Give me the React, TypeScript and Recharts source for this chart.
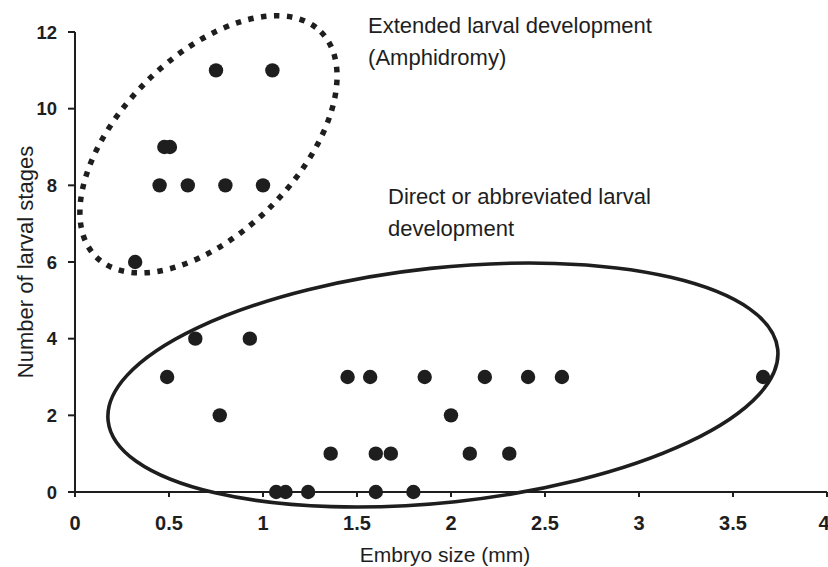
import {
  ScatterChart,
  Scatter,
  XAxis,
  YAxis,
  ReferenceArea,
  ReferenceDot,
  Label,
} from "recharts";

// embryo size (mm) / number of larval stages
const extendedSize = [0.32, 0.45, 0.6, 0.8, 1.0, 0.475, 0.505, 0.75, 1.05];
const extendedStages = [6, 8, 8, 8, 8, 9, 9, 11, 11];

const directSize = [
  0.64, 0.93,
  0.49, 1.45, 1.57, 1.86, 2.18, 2.41, 2.59, 3.66,
  0.77, 2.0,
  1.36, 1.6, 1.68, 2.1, 2.31,
  1.07, 1.12, 1.24, 1.6, 1.8,
];
const directStages = [
  4, 4,
  3, 3, 3, 3, 3, 3, 3, 3,
  2, 2,
  1, 1, 1, 1, 1,
  0, 0, 0, 0, 0,
];

const xTicks = [0, 0.5, 1, 1.5, 2, 2.5, 3, 3.5, 4];
const yTicks = [0, 2, 4, 6, 8, 10, 12];

const extendedData = extendedSize.map((x, i) => ({ x, y: extendedStages[i] }));
const directData = directSize.map((x, i) => ({ x, y: directStages[i] }));

// group outlines, in data units: centre, half-axes, tilt (deg)
const extendedOutline = { cx: 0.71, cy: 9.07, rx: 0.846, ry: 2.3, angle: -45 };
const directOutline = { cx: 1.957, cy: 2.79, rx: 1.791, ry: 3.06, angle: -6.1 };

const INK = "#1e1e1e";
const FONT = "'Liberation Sans', Arial, sans-serif";

const Dot = (props: any) => <circle cx={props.cx} cy={props.cy} r={7.2} fill={INK} />;

const XTick = (props: any) => (
  <text
    x={props.x}
    y={props.y + 31}
    textAnchor="middle"
    fontFamily={FONT}
    fontSize={20}
    fontWeight="bold"
    fill={INK}
  >
    {props.payload.value}
  </text>
);

const YTick = (props: any) => (
  <text
    x={57}
    y={props.y + 6.5}
    textAnchor="end"
    fontFamily={FONT}
    fontSize={18.5}
    fontWeight="bold"
    fill={INK}
  >
    {props.payload.value}
  </text>
);

const ellipseShape = (angle: number, dashed: boolean) => (props: any) => {
  const { x, y, width, height } = props;
  const cx = x + width / 2;
  const cy = y + height / 2;
  return (
    <ellipse
      cx={cx}
      cy={cy}
      rx={Math.abs(width) / 2}
      ry={Math.abs(height) / 2}
      transform={`rotate(${angle} ${cx} ${cy})`}
      fill="none"
      stroke={INK}
      strokeWidth={dashed ? 5.5 : 3.6}
      strokeDasharray={dashed ? "5.5 7.5" : undefined}
    />
  );
};

const note = (lines: string[]) => (props: any) => (
  <text x={props.cx} y={props.cy} fontFamily={FONT} fontSize={22} fill={INK}>
    {lines.map((l, i) => (
      <tspan key={i} x={props.cx} dy={i === 0 ? 0 : 32}>
        {l}
      </tspan>
    ))}
  </text>
);

function outline(o: typeof extendedOutline, dashed: boolean) {
  return (
    <ReferenceArea
      x1={o.cx - o.rx}
      x2={o.cx + o.rx}
      y1={o.cy - o.ry}
      y2={o.cy + o.ry}
      ifOverflow="visible"
      shape={ellipseShape(o.angle, dashed)}
    />
  );
}

const XTitle = (props: any) => {
  const vb = props.viewBox;
  return (
    <text
      x={vb.x + vb.width / 2 - 6}
      y={vb.y + 70}
      textAnchor="middle"
      fontFamily={FONT}
      fontSize={21}
      fill={INK}
    >
      Embryo size (mm)
    </text>
  );
};

export default function App() {
  return (
    <div
      style={{
        position: "absolute",
        left: 0,
        top: 0,
        width: 828,
        height: 567,
        overflow: "hidden",
        background: "#fff",
      }}
    >
      <ScatterChart
        width={828}
        height={567}
        margin={{ top: 32, right: 1, bottom: 0, left: 0 }}
      >
        <XAxis
          type="number"
          dataKey="x"
          domain={[0, 4]}
          ticks={xTicks}
          height={75}
          axisLine={{ stroke: INK, strokeWidth: 2 }}
          tickLine={{ stroke: INK, strokeWidth: 2 }}
          tickSize={5}
          tick={<XTick />}
        >
          <Label content={<XTitle />} />
        </XAxis>
        <YAxis
          type="number"
          dataKey="y"
          domain={[0, 12]}
          ticks={yTicks}
          width={75}
          axisLine={{ stroke: INK, strokeWidth: 2 }}
          tickLine={{ stroke: INK, strokeWidth: 2 }}
          tickSize={7}
          tick={<YTick />}
        >
          <Label
            value="Number of larval stages"
            angle={-90}
            position="insideLeft"
            offset={25}
            style={{ fontSize: 22, fill: INK, fontFamily: FONT, textAnchor: "middle" }}
          />
        </YAxis>
        {outline(extendedOutline, true)}
        {outline(directOutline, false)}
        <ReferenceDot
          x={1.559}
          y={11.97}
          r={0}
          ifOverflow="visible"
          shape={note(["Extended larval development", "(Amphidromy)"])}
        />
        <ReferenceDot
          x={1.665}
          y={7.51}
          r={0}
          ifOverflow="visible"
          shape={note(["Direct or abbreviated larval", "development"])}
        />
        <Scatter data={extendedData} shape={Dot} isAnimationActive={false} />
        <Scatter data={directData} shape={Dot} isAnimationActive={false} />
      </ScatterChart>
    </div>
  );
}
